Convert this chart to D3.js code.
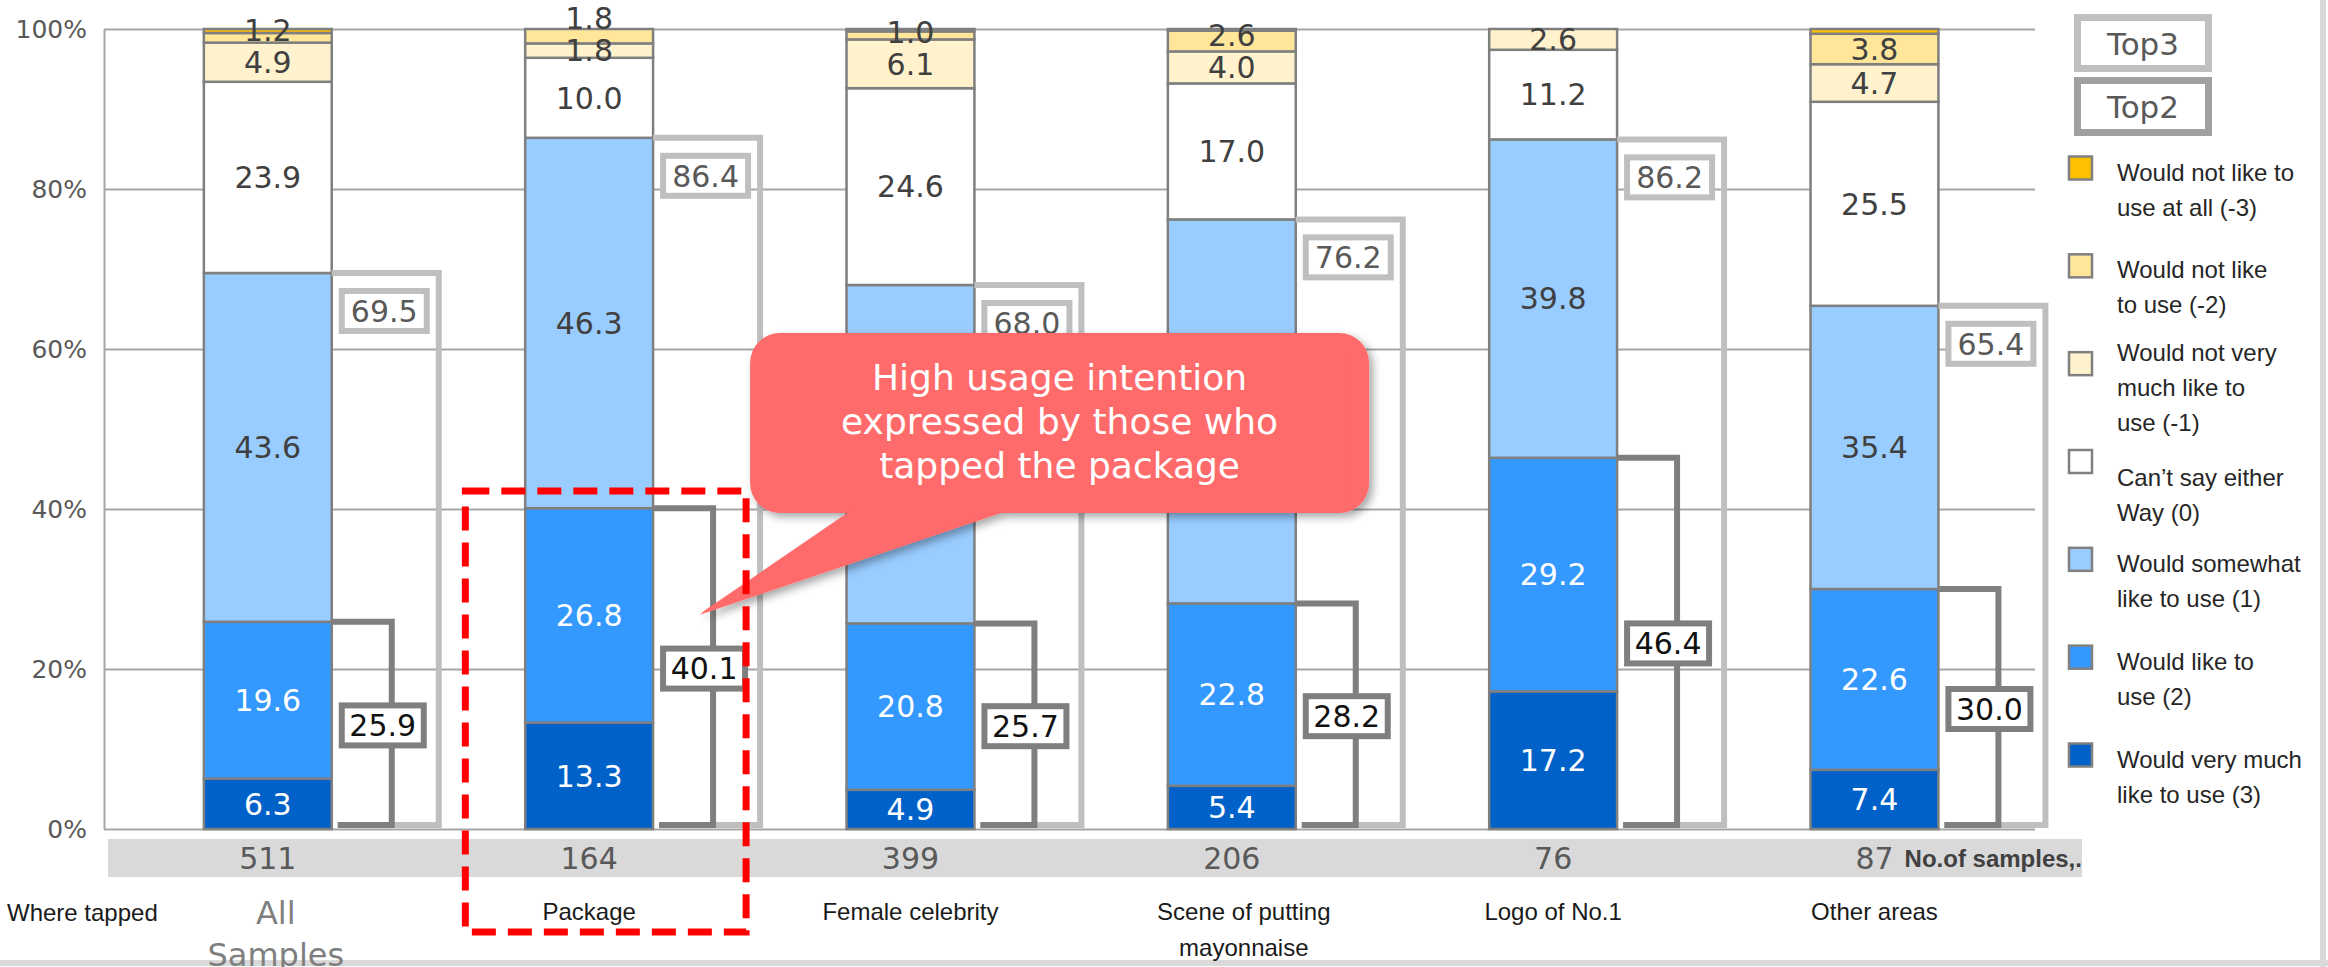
<!DOCTYPE html>
<html><head><meta charset="utf-8">
<script src="https://cdn.jsdelivr.net/npm/d3@7"></script>
<style>
html,body{margin:0;padding:0;background:#fff;}
svg{display:block;}
</style></head><body>
<svg id="chart" width="2328" height="967"></svg>
<script>
// ---------------- data ----------------
const categories = ["All\nSamples", "Package", "Female celebrity", "Scene of putting\nmayonnaise", "Logo of No.1", "Other areas"];
const sampleCounts = [511, 164, 399, 206, 76, 87];
// stacked from bottom (3) to top (-3)
const veryMuch    = [6.3, 13.3, 4.9, 5.4, 17.2, 7.4];     // (3)
const like        = [19.6, 26.8, 20.8, 22.8, 29.2, 22.6]; // (2)
const somewhat    = [43.6, 46.3, 42.3, 48.0, 39.8, 35.4]; // (1)
const neutral     = [23.9, 10.0, 24.6, 17.0, 11.2, 25.5]; // (0)
const notVeryMuch = [4.9, 1.8, 6.1, 4.0, 2.6, 4.7];       // (-1)
const notLike     = [1.2, 1.8, 1.0, 2.6, 0, 3.8];         // (-2)
const notAtAll    = [0.5, 0, 0.3, 0.2, 0, 0.6];           // (-3)
const top2 = [25.9, 40.1, 25.7, 28.2, 46.4, 30.0];
const top3 = [69.5, 86.4, 68.0, 76.2, 86.2, 65.4];
const yTicks = [0, 20, 40, 60, 80, 100];
const seriesKeys = ["s3", "s2", "s1", "s0", "sm1", "sm2", "sm3"];
const seriesColors = ["#0061C9", "#3399FF", "#99CCFF", "#FFFFFF", "#FFF2CC", "#FFE699", "#FFC000"];
const legendLabels = [
  ["Would not like to", "use at all (-3)"],
  ["Would not like", "to use (-2)"],
  ["Would not very", "much like to", "use (-1)"],
  ["Can\u2019t say either", "Way (0)"],
  ["Would somewhat", "like to use (1)"],
  ["Would like to", "use (2)"],
  ["Would very much", "like to use (3)"]
];
const calloutLines = ["High usage intention", "expressed by those who", "tapped the package"];

// ---------------- setup ----------------
const svg = d3.select("#chart");
const NUM = "'DejaVu Sans', Verdana, sans-serif";
const ARIAL = "'Liberation Sans', Arial, sans-serif";

const rows = categories.map((c, i) => ({
  cat: c, s3: veryMuch[i], s2: like[i], s1: somewhat[i], s0: neutral[i],
  sm1: notVeryMuch[i], sm2: notLike[i], sm3: notAtAll[i],
  n: sampleCounts[i], t2: top2[i], t3: top3[i]
}));

const x = d3.scaleBand().domain(categories).range([102, 2030]).padding(0);
const y = d3.scaleLinear().domain([0, 100]).range([829, 29]);
const bw = x.bandwidth();
const barOff = bw * 0.317, barW = bw * 0.398;
const barL = c => x(c) + barOff;
const barR = c => x(c) + barOff + barW;
const barC = c => x(c) + barOff + barW / 2;

// callout geometry (annotation anchored on the Package column)
const pkgR = barR("Package");
const cb = { x: pkgR + 97, y: y(62), w: 619, h: y(39.5) - y(62) };
const insideCallout = (px, py) => px > cb.x - 10 && px < cb.x + cb.w + 10 && py > cb.y - 10 && py < cb.y + cb.h + 10;

// frame lines
svg.append("rect").attr("x", 0).attr("y", 960).attr("width", 2328).attr("height", 6).attr("fill", "#d9d9d9");
svg.append("rect").attr("x", 2320).attr("y", 0).attr("width", 6).attr("height", 967).attr("fill", "#d9d9d9");

// axis + gridlines
const gridRight = 2035, axisX = 104;
const axis = d3.axisLeft(y).tickValues(yTicks).tickFormat(d => d + "%")
  .tickSize(-(gridRight - axisX)).tickSizeOuter(0).tickPadding(17);
const ag = svg.append("g").attr("transform", `translate(${axisX},0)`).call(axis);
ag.select(".domain").attr("stroke", "#a6a6a6").attr("stroke-width", 2);
ag.selectAll(".tick line").attr("stroke", "#a6a6a6").attr("stroke-width", 1.8);
ag.selectAll(".tick text").attr("fill", "#595959").style("font-family", NUM).style("font-size", "25px");

// stacked bars
const stacked = d3.stack().keys(seriesKeys)(rows);
const gBars = svg.append("g");
stacked.forEach((layer, k) => {
  gBars.selectAll(null).data(layer.filter(d => d[1] - d[0] > 0)).enter().append("rect")
    .attr("x", d => barL(d.data.cat))
    .attr("y", d => y(d[1]))
    .attr("width", barW)
    .attr("height", d => y(d[0]) - y(d[1]))
    .attr("fill", seriesColors[k])
    .attr("stroke", "#7f7f7f").attr("stroke-width", 2.5);
});

// segment labels (push small top labels upward to avoid overlap)
const labels = [];
rows.forEach(r => {
  const list = [];
  stacked.forEach((layer, k) => {
    const d = layer.find(e => e.data.cat === r.cat);
    const v = d[1] - d[0];
    if (v >= 0.8) list.push({ cat: r.cat, k, v: r[seriesKeys[k]], yc: (y(d[0]) + y(d[1])) / 2 });
  });
  for (let i = 1; i < list.length; i++) {
    if (list[i - 1].yc - list[i].yc < 32) list[i].yc = list[i - 1].yc - 32;
  }
  // labels hidden behind the callout are not shown in the reference
  labels.push(...list.filter(l => !insideCallout(barC(l.cat), l.yc)));
});
svg.append("g").selectAll("text").data(labels).enter().append("text")
  .attr("x", d => barC(d.cat)).attr("y", d => d.yc).attr("dy", "0.36em")
  .attr("text-anchor", "middle")
  .attr("fill", d => d.k <= 1 ? "#ffffff" : "#404040")
  .style("font-family", NUM).style("font-size", "30px")
  .text(d => d.v.toFixed(1));

// Top3 / Top2 brackets
const gBr = svg.append("g").attr("fill", "none");
rows.forEach(r => {
  const br = barR(r.cat);
  gBr.append("path")
    .attr("d", `M${br},${y(r.t3)}H${br + 107}V${y(0) - 4}H${br + 6}`)
    .attr("stroke", "#bfbfbf").attr("stroke-width", 6);
});
rows.forEach(r => {
  const br = barR(r.cat);
  gBr.append("path")
    .attr("d", `M${br},${y(r.t2)}H${br + 60}V${y(0) - 4}H${br + 6}`)
    .attr("stroke", "#7f7f7f").attr("stroke-width", 6);
});
// Top3 boxes
rows.forEach(r => {
  const br = barR(r.cat);
  const top = y(r.t3) + 18;
  svg.append("rect").attr("x", br + 10).attr("y", top).attr("width", 85).attr("height", 40)
    .attr("fill", "#fff").attr("stroke", "#bfbfbf").attr("stroke-width", 6);
  svg.append("text").attr("x", br + 52.5).attr("y", top + 20).attr("dy", "0.36em")
    .attr("text-anchor", "middle").attr("fill", "#595959")
    .style("font-family", NUM).style("font-size", "30px").text(r.t3.toFixed(1));
});
// Top2 boxes
rows.forEach(r => {
  const br = barR(r.cat);
  const mid = (y(r.t2) + y(0)) / 2;
  svg.append("rect").attr("x", br + 10).attr("y", mid - 20).attr("width", 82).attr("height", 40)
    .attr("fill", "#fff").attr("stroke", "#7f7f7f").attr("stroke-width", 6);
  svg.append("text").attr("x", br + 51).attr("y", mid).attr("dy", "0.36em")
    .attr("text-anchor", "middle").attr("fill", "#111")
    .style("font-family", NUM).style("font-size", "30px").text(r.t2.toFixed(1));
});

// sample count band
svg.append("rect").attr("x", 108).attr("y", 839).attr("width", 1974).attr("height", 38).attr("fill", "#d9d9d9");
const nTexts = svg.append("g").selectAll("text").data(rows).enter().append("text")
  .attr("x", d => barC(d.cat)).attr("y", 858).attr("dy", "0.36em")
  .attr("text-anchor", "middle").attr("fill", "#595959")
  .style("font-family", NUM).style("font-size", "30px").text(d => d.n);
const lastNode = nTexts.nodes()[nTexts.nodes().length - 1];
const lastW = lastNode.getComputedTextLength();
svg.append("text").attr("x", barC(categories[categories.length - 1]) + lastW / 2 + 11).attr("y", 858).attr("dy", "0.36em")
  .attr("fill", "#404040").style("font-family", ARIAL).style("font-size", "24px").style("font-weight", "bold")
  .text("No.of samples,.");

// category labels
svg.append("text").attr("x", 7).attr("y", 912).attr("dy", "0.36em").attr("fill", "#1a1a1a")
  .style("font-family", ARIAL).style("font-size", "24px").text("Where tapped");
rows.forEach((r, i) => {
  const lines = r.cat.split("\n");
  const t = svg.append("text").attr("text-anchor", "middle")
    .attr("fill", i === 0 ? "#7f7f7f" : "#1a1a1a")
    .style("font-family", i === 0 ? NUM : ARIAL)
    .style("font-size", i === 0 ? "32px" : "24px");
  lines.forEach((ln, j) => {
    t.append("tspan").attr("x", barC(r.cat) + (i === 0 ? 8 : (lines.length > 1 ? 12 : 0)))
      .attr("y", (i === 0 ? 912 : 911) + j * (i === 0 ? 42 : 36)).attr("dy", "0.36em").text(ln);
  });
});

// legend: Top3 / Top2
svg.append("rect").attr("x", 2077.5).attr("y", 17.5).attr("width", 131).attr("height", 51)
  .attr("fill", "#fff").attr("stroke", "#c0c0c0").attr("stroke-width", 7);
svg.append("rect").attr("x", 2077.5).attr("y", 80.5).attr("width", 131).attr("height", 52)
  .attr("fill", "#fff").attr("stroke", "#a0a0a0").attr("stroke-width", 7);
svg.append("text").attr("x", 2143).attr("y", 44).attr("dy", "0.36em").attr("text-anchor", "middle")
  .attr("fill", "#595959").style("font-family", NUM).style("font-size", "31px").text("Top3");
svg.append("text").attr("x", 2143).attr("y", 107).attr("dy", "0.36em").attr("text-anchor", "middle")
  .attr("fill", "#595959").style("font-family", NUM).style("font-size", "31px").text("Top2");

// legend: series (top: -3 ... bottom: 3)
const ly = d3.scaleLinear().domain([0, legendLabels.length - 1]).range([168, 755]);
legendLabels.forEach((lines, i) => {
  const colorIdx = seriesColors.length - 1 - i;
  const cy = ly(i);
  svg.append("rect").attr("x", 2069).attr("y", cy - 11.5).attr("width", 23).attr("height", 23)
    .attr("fill", seriesColors[colorIdx]).attr("stroke", "#808080").attr("stroke-width", 2.5);
  const t = svg.append("text").attr("fill", "#262626").style("font-family", ARIAL).style("font-size", "24px");
  const first = cy + 4 - (lines.length - 2) * 15 + (i === 3 ? 12 : 0);
  lines.forEach((ln, j) => {
    t.append("tspan").attr("x", 2117).attr("y", first + j * 35).attr("dy", "0.36em").text(ln);
  });
});

// callout annotation
const defs = svg.append("defs");
const f = defs.append("filter").attr("id", "sh").attr("x", "-10%").attr("y", "-10%").attr("width", "130%").attr("height", "140%");
f.append("feDropShadow").attr("dx", 4).attr("dy", 4).attr("stdDeviation", 4)
  .attr("flood-color", "#000").attr("flood-opacity", 0.35);
const gc = svg.append("g").attr("filter", "url(#sh)");
gc.append("rect").attr("x", cb.x).attr("y", cb.y).attr("width", cb.w).attr("height", cb.h)
  .attr("rx", 30).attr("ry", 30).attr("fill", "#FF6B6B");
gc.append("path")
  .attr("d", `M${cb.x + 101},${cb.y + cb.h - 1}L${pkgR + 46},${y(26.75)}L${cb.x + 254},${cb.y + cb.h - 1}Z`)
  .attr("fill", "#FF6B6B");
// cover seam between tail and box (no shadow)
svg.append("rect").attr("x", cb.x + 20).attr("y", cb.y + 20).attr("width", cb.w - 40).attr("height", cb.h - 22).attr("fill", "#FF6B6B");
svg.append("path")
  .attr("d", `M${cb.x + 103},${cb.y + cb.h - 4}L${pkgR + 48},${y(26.75) - 2}L${cb.x + 250},${cb.y + cb.h - 4}Z`)
  .attr("fill", "#FF6B6B");
calloutLines.forEach((ln, j) => {
  svg.append("text").attr("x", cb.x + cb.w / 2).attr("y", cb.y + 44 + j * 44).attr("dy", "0.36em")
    .attr("text-anchor", "middle").attr("fill", "#ffffff")
    .style("font-family", NUM).style("font-size", "36px").text(ln);
});

// red dashed highlight around Package
svg.append("rect").attr("x", x("Package") + 42).attr("y", 491).attr("width", pkgR + 93 - (x("Package") + 42)).attr("height", 441)
  .attr("fill", "none").attr("stroke", "#FF0000").attr("stroke-width", 7).attr("stroke-dasharray", "24 12");
</script>
</body></html>
